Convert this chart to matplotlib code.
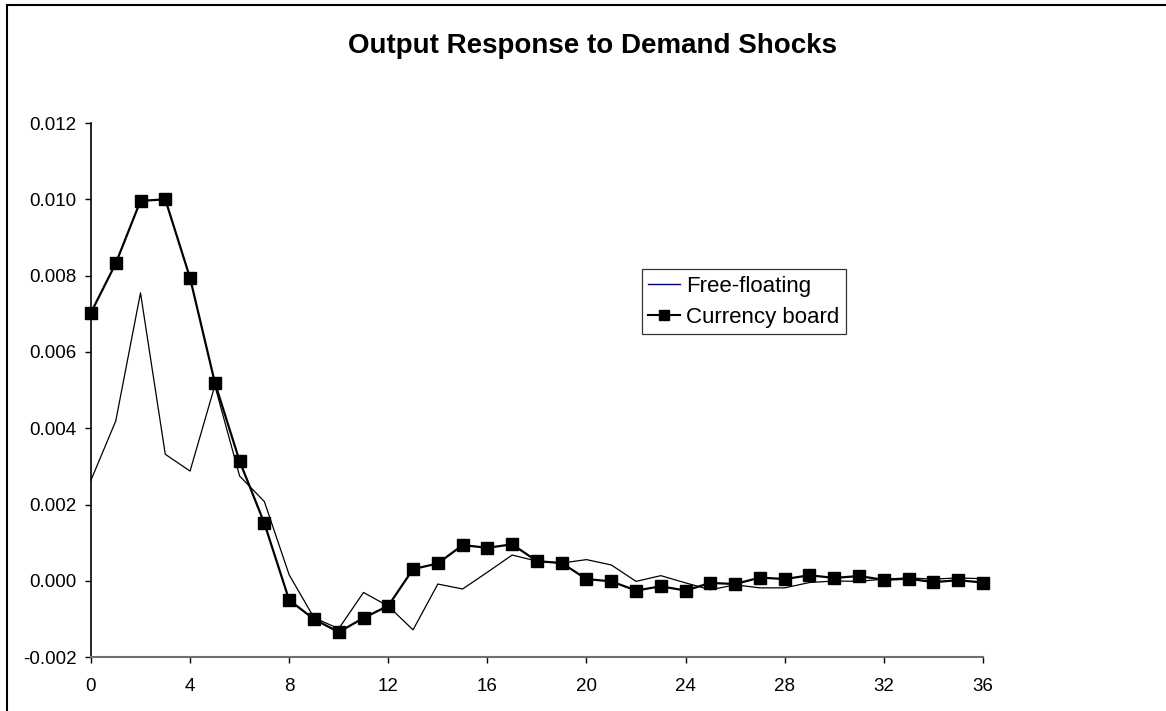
import matplotlib
matplotlib.use("Agg")
import matplotlib.pyplot as plt
from matplotlib.lines import Line2D
from matplotlib.patches import Rectangle

plt.rcParams['font.family'] = ['Liberation Sans', 'DejaVu Sans']

# data
periods = list(range(37))
free_floating = [0.00264, 0.00419, 0.00755, 0.00332, 0.00288, 0.00512, 0.00275, 0.00208,
                 0.00016, -0.00096, -0.00125, -0.00030, -0.00066, -0.00128, -0.00008,
                 -0.00021, 0.00023, 0.00068, 0.00052, 0.00047, 0.00056, 0.00042, -0.00001,
                 0.00014, -0.00005, -0.00023, -0.00010, -0.00018, -0.00018, -0.00004,
                 0.00000, -0.00001, 0.00005, 0.00008, 0.00005, 0.00008, 0.00006]
currency_board = [0.00703, 0.00832, 0.00996, 0.01000, 0.00794, 0.00520, 0.00314, 0.00151,
                  -0.00050, -0.00100, -0.00134, -0.00097, -0.00065, 0.00031, 0.00046,
                  0.00094, 0.00087, 0.00096, 0.00052, 0.00047, 0.00005, -0.00001, -0.00025,
                  -0.00014, -0.00025, -0.00005, -0.00008, 0.00009, 0.00005, 0.00015,
                  0.00008, 0.00013, 0.00003, 0.00006, -0.00003, 0.00002, -0.00004]
x_ticks = list(range(0, 37, 4))
y_ticks = [-0.002, 0.000, 0.002, 0.004, 0.006, 0.008, 0.010, 0.012]

fig = plt.figure(figsize=(11.66, 7.11), dpi=100)
ax = fig.add_axes([0.078, 0.0755, 0.765, 0.7515])

ax.plot(periods, free_floating, color='black', lw=0.9, clip_on=False)
ax.plot(periods, currency_board, color='black', lw=1.6, marker='s', markersize=8.5,
        clip_on=False, zorder=3)

ax.set_xlim(0, 36)
ax.set_ylim(-0.002, 0.012)
ax.set_xticks(x_ticks)
ax.set_yticks(y_ticks)
ax.set_yticklabels([f"{v:.3f}" for v in y_ticks])
ax.tick_params(direction='out', length=4.5, width=1, labelsize=13.5, pad=6)
ax.tick_params(axis='x', pad=10.5)

for s in ['top', 'right']:
    ax.spines[s].set_visible(False)
ax.spines['left'].set_color('black')
ax.spines['left'].set_linewidth(1.2)
ax.spines['bottom'].set_color('#707070')
ax.spines['bottom'].set_linewidth(1.5)

fig.text(0.508, 0.935, "Output Response to Demand Shocks", ha='center', va='center',
         fontsize=20, fontweight='bold')

handles = [Line2D([0], [0], color='#000080', lw=1),
           Line2D([0], [0], color='black', lw=1.5, marker='s', markersize=7)]
leg = ax.legend(handles, ["Free-floating", "Currency board"], loc='upper left',
                bbox_to_anchor=(0.5505, 0.621), bbox_transform=fig.transFigure,
                fontsize=16, frameon=True, fancybox=False, borderpad=0.28,
                handlelength=1.45, handletextpad=0.27, labelspacing=0.45, borderaxespad=0)
leg.get_frame().set_edgecolor('black')
leg.get_frame().set_linewidth(0.9)

# outer chart frame
fig.patches.append(Rectangle((0.006, -0.05), 1.2, 1.043, transform=fig.transFigure,
                             fill=False, edgecolor='black', lw=1.5))

fig.savefig("out.png", dpi=100)
